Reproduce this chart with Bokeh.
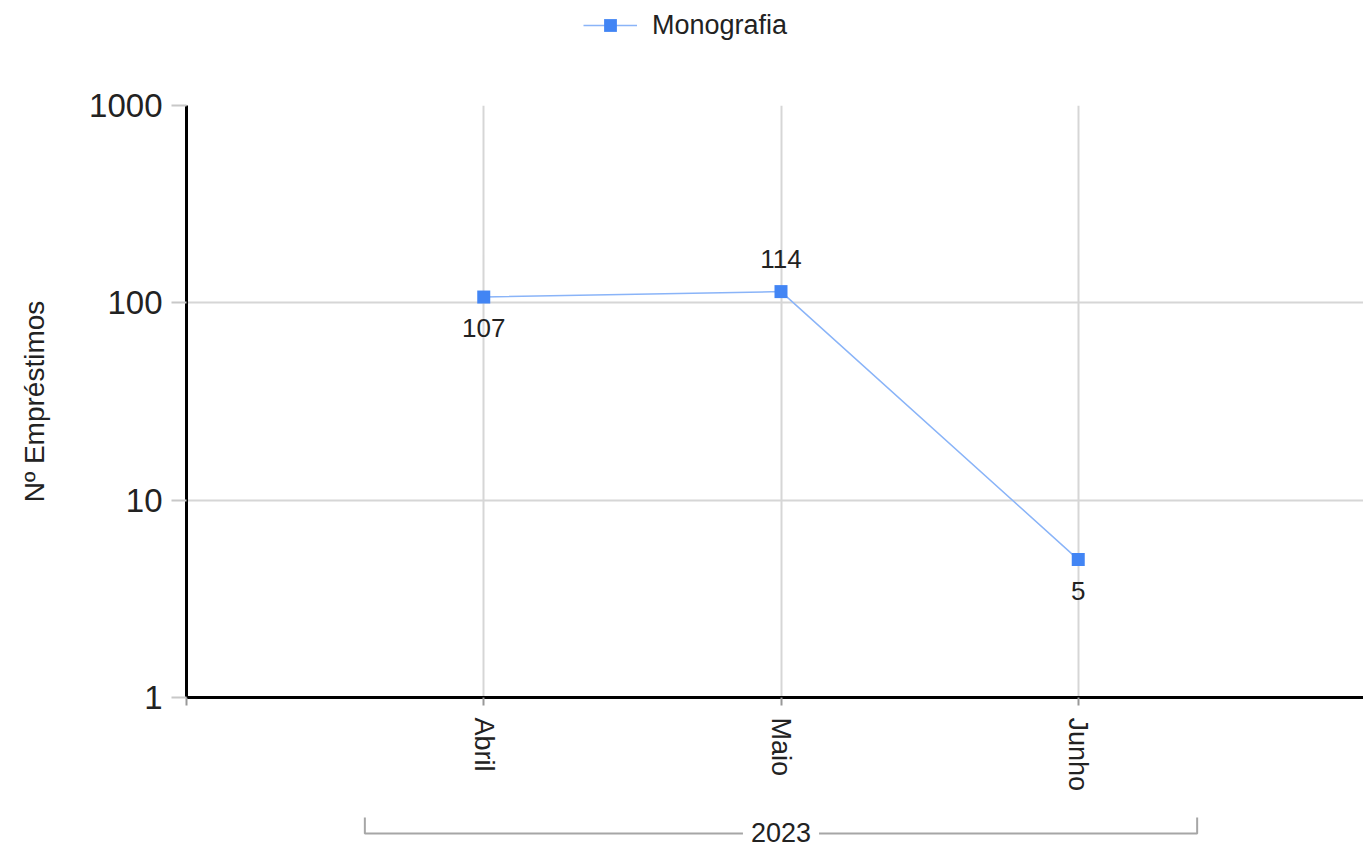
import math
from bokeh.plotting import figure
from bokeh.models import (Range1d, FixedTicker, BasicTickFormatter, Legend,
                          LegendItem, ColumnDataSource)
from bokeh.layouts import column
from bokeh.core.properties import value
from bokeh.embed import file_html
from bokeh.resources import INLINE

# ---- data ----
months = ["Abril", "Maio", "Junho"]
loans = [107, 114, 5]
year = "2023"
series_name = "Monografia"
y_title = "Nº Empréstimos"
y_ticks = [1, 10, 100, 1000]

# ---- style ----
label_side = ["below", "above", "below"]
FONT = value("Liberation Sans")
TXT = "#222222"
GRID = "#d6d6d6"
LINE_C = "#8ab4f8"
MARK_C = "#4285f4"

xs = list(range(1, len(months) + 1))
yoff = [31 if s == "below" else -33 for s in label_side]
src = ColumnDataSource(dict(x=xs, y=loans, label=[str(v) for v in loans], yoff=yoff))

W = 1363
H0 = 50      # legend strip
H1 = 750     # main chart
H2 = 50      # group bracket strip
LEFT = 186
x_end = (W - LEFT) / 297.25

# ---- legend strip (frame aligned with the main chart's frame) ----
p0 = figure(width=W, height=H0, x_range=Range1d(0, 1), y_range=Range1d(0, 1),
            output_backend="svg", toolbar_location=None,
            x_axis_location=None, y_axis_location=None,
            min_border_left=LEFT, min_border_right=0, min_border_top=0, min_border_bottom=0,
            outline_line_color=None, border_fill_color="white")
p0.grid.visible = False
key_src = ColumnDataSource(dict(x=[float("nan")], y=[float("nan")]))
lg_line = p0.line("x", "y", source=key_src, line_color=LINE_C, line_width=1.5)
lg_pts = p0.scatter("x", "y", source=key_src, marker="square", size=13,
                    fill_color=MARK_C, line_color=None)
legend = Legend(items=[LegendItem(label=series_name, renderers=[lg_line, lg_pts])],
                location=(583 - LEFT, 9), orientation="horizontal", glyph_width=54,
                glyph_height=32, label_height=32, label_standoff=15, padding=0,
                margin=0, border_line_color=None, background_fill_alpha=0,
                label_text_font_size="27px", label_text_font="Liberation Sans",
                label_text_color=TXT)
p0.add_layout(legend)

# ---- main chart ----
p = figure(width=W, height=H1, x_range=Range1d(0, x_end), y_range=Range1d(y_ticks[0], y_ticks[-1]),
           y_axis_type="log", output_backend="svg", toolbar_location=None,
           min_border_left=LEFT, min_border_top=105 - H0, min_border_bottom=H0 + H1 - 697,
           min_border_right=0, outline_line_color=None, background_fill_color="white",
           border_fill_color="white")

p.yaxis.ticker = FixedTicker(ticks=y_ticks)
p.yaxis.formatter = BasicTickFormatter(use_scientific=False)
p.yaxis.minor_tick_line_color = None
p.yaxis.axis_line_color = "black"
p.yaxis.axis_line_width = 3
p.yaxis.major_tick_line_color = "#c8c8c8"
p.yaxis.major_tick_line_width = 2
p.yaxis.major_tick_out = 15
p.yaxis.major_tick_in = 0
p.yaxis.major_label_standoff = 9
p.yaxis.major_label_text_font_size = "33px"
p.yaxis.major_label_text_font = "Liberation Sans"
p.yaxis.major_label_text_color = TXT
p.yaxis.axis_label = y_title
p.yaxis.axis_label_text_font_size = "28px"
p.yaxis.axis_label_text_font = "Liberation Sans"
p.yaxis.axis_label_text_font_style = "normal"
p.yaxis.axis_label_text_color = TXT
p.yaxis.axis_label_standoff = 36

p.xaxis.ticker = FixedTicker(ticks=[0] + xs)
p.xaxis.major_label_overrides = {0: "", **{x: m for x, m in zip(xs, months)}}
p.xaxis.minor_tick_line_color = None
p.xaxis.axis_line_color = "black"
p.xaxis.axis_line_width = 3
p.xaxis.major_tick_line_color = "#999999"
p.xaxis.major_tick_line_width = 2
p.xaxis.major_tick_out = 8
p.xaxis.major_tick_in = 0
p.xaxis.major_label_standoff = 12
p.xaxis.major_label_orientation = -math.pi / 2
p.xaxis.major_label_text_font_size = "27px"
p.xaxis.major_label_text_font = "Liberation Sans"
p.xaxis.major_label_text_color = TXT

p.xgrid.ticker = FixedTicker(ticks=xs)
p.ygrid.ticker = FixedTicker(ticks=y_ticks[1:])
p.grid.grid_line_color = GRID
p.grid.grid_line_width = 2

p.line("x", "y", source=src, line_color=LINE_C, line_width=1.5)
p.scatter("x", "y", source=src, marker="square", size=13, fill_color=MARK_C, line_color=None)
p.text("x", "y", text="label", source=src, y_offset="yoff", text_align="center",
       text_baseline="middle", text_font=FONT, text_font_size="26px", text_color=TXT)

# ---- group bracket strip ----
p2 = figure(width=W, height=H2, x_range=p.x_range, y_range=Range1d(H2, 0),
            output_backend="svg", toolbar_location=None,
            x_axis_location=None, y_axis_location=None,
            min_border_left=LEFT, min_border_right=0, min_border_top=0, min_border_bottom=0,
            outline_line_color=None, border_fill_color="white")
p2.grid.visible = False
x0 = xs[0] - 0.4
x1 = xs[-1] + 0.4
c = (xs[0] + xs[-1]) / 2
g = 0.128
p2.multi_line(xs=[[x0, x0, c - g], [c + g, x1, x1]], ys=[[17, 33, 33], [33, 33, 17]],
              line_color="#a6a6a6", line_width=2)
p2.text(x=[c], y=[32], text=[year], text_align="center", text_baseline="middle",
        text_font=FONT, text_font_size="27px", text_color=TXT)

layout = column(p0, p, p2)
open("out.html", "w").write(file_html(layout, INLINE))
